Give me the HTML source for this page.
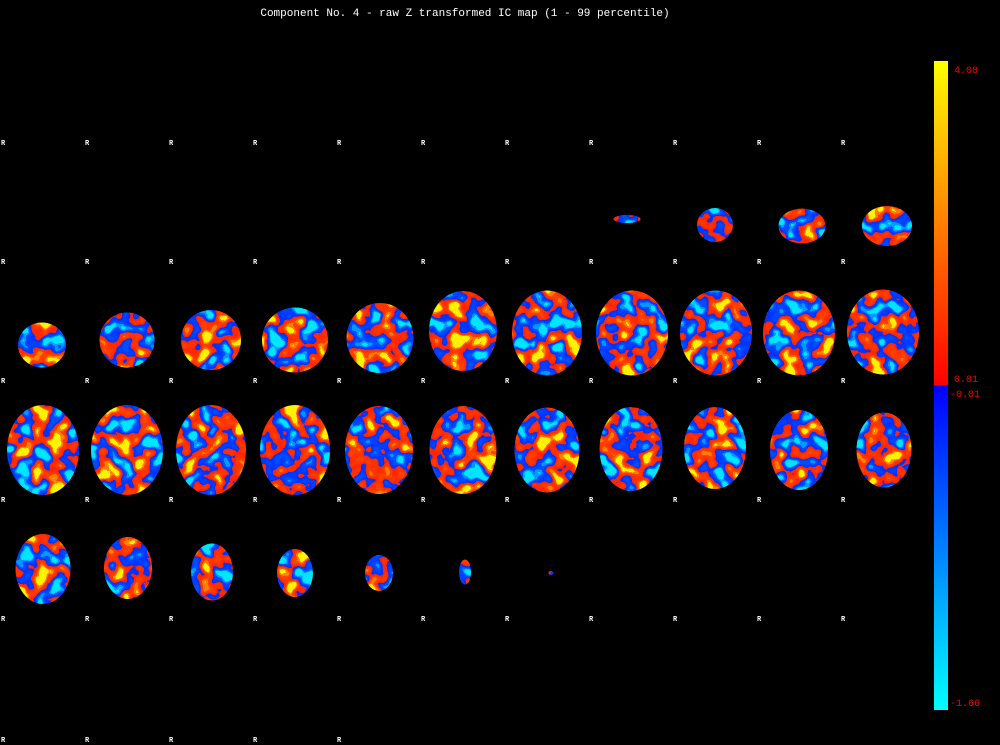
<!DOCTYPE html>
<html><head><meta charset="utf-8"><style>
html,body{margin:0;padding:0;background:#000;width:1000px;height:745px;overflow:hidden}
svg{display:block}
</style></head><body>
<svg id="chart" width="1000" height="745" viewBox="0 0 1000 745" xmlns="http://www.w3.org/2000/svg">
<defs>
<filter id="tex" filterUnits="userSpaceOnUse" x="0" y="130" width="930" height="500" color-interpolation-filters="sRGB">
<feTurbulence type="fractalNoise" baseFrequency="0.06" numOctaves="2" seed="7" result="n"/>
<feColorMatrix type="matrix" values="2.2 0 0 0 -0.6  2.2 0 0 0 -0.6  2.2 0 0 0 -0.6  0 0 0 0 1"/>
<feComponentTransfer>
<feFuncR type="discrete" tableValues="0 0 0 0 0 1 1 1 1 1"/>
<feFuncG type="discrete" tableValues="0.9 0.6 0.3 0.25 0.2 0.15 0.2 0.25 0.5 0.95"/>
<feFuncB type="discrete" tableValues="1 1 1 1 1 0 0 0 0 0"/>
</feComponentTransfer>
</filter>
<linearGradient id="cbar" x1="0" y1="0" x2="0" y2="1">
<stop offset="0" stop-color="#ffff00"/><stop offset="0.499" stop-color="#ff0000"/>
<stop offset="0.501" stop-color="#0000ff"/><stop offset="1" stop-color="#00ffff"/>
</linearGradient>
<mask id="brainMask"><g id="maskGroup"></g></mask>
</defs>
<text x="465" y="16" fill="#fff" font-family="Liberation Mono, monospace" font-size="11" text-anchor="middle">Component No. 4 - raw Z transformed IC map (1 - 99 percentile)</text>
<g id="slices">
<rect x="0" y="130" width="930" height="500" filter="url(#tex)" mask="url(#brainMask)"/>
</g>
<g id="labels"></g>
<g>
<rect x="934" y="61" width="14" height="649" fill="url(#cbar)"/>
<g font-family="Liberation Mono, monospace" font-size="10" fill="#ff0000">
<text x="954" y="73">4.08</text>
<text x="954" y="382">0.01</text>
<text x="950" y="397">-0.01</text>
<text x="950" y="706">-1.66</text>
</g>
</g>
</svg>
<script>
// slice centers (x,y), widths and heights as read from the montage
const sliceX=[627,715,802,887, 42,127,211,295,380,463,547,632,716,799,883, 43,127,211,295,379,463,547,631,715,799,884, 43,128,212,295,379,465,551];
const sliceY=[219,225,226,226, 345,340,340,340,338,331,333,333,333,333,332, 450,450,450,450,450,450,450,449,448,450,450, 569,568,572,573,573,572,573];
const sliceW=[27,36,47,50, 48,55,60,66,67,68,70,72,72,72,72, 72,72,70,70,68,67,65,63,62,58,55, 55,48,42,36,28,12,5];
const sliceH=[8,34,35,40, 45,55,60,65,70,80,85,85,85,85,85, 90,90,90,90,88,88,85,84,82,80,75, 70,62,57,48,36,25,4];
const labelRows=[141,260,379,498,617,738];
const colX=[0,84,168,252,336,420,504,588,672,756,840];
const NS='http://www.w3.org/2000/svg';
const mg=document.getElementById('maskGroup');
for(let i=0;i<sliceX.length;i++){
  const e=document.createElementNS(NS,'ellipse');
  e.setAttribute('cx',sliceX[i]);e.setAttribute('cy',sliceY[i]);
  e.setAttribute('rx',sliceW[i]/2);e.setAttribute('ry',sliceH[i]/2);
  e.setAttribute('fill','#fff');
  
  
  mg.appendChild(e);
}
const lg=document.getElementById('labels');
labelRows.forEach((y,r)=>{
  colX.forEach((x,c)=>{
    if(r===5&&c>4)return;
    const t=document.createElementNS(NS,'text');
    t.setAttribute('x',x+1);t.setAttribute('y',y+4);
    t.setAttribute('fill','#fff');t.setAttribute('font-size','7');
    t.setAttribute('font-family','Liberation Mono, monospace');t.setAttribute('font-weight','bold');
    t.textContent='R';
    
    
    lg.appendChild(t);
  });
});
</script>
</body></html>
